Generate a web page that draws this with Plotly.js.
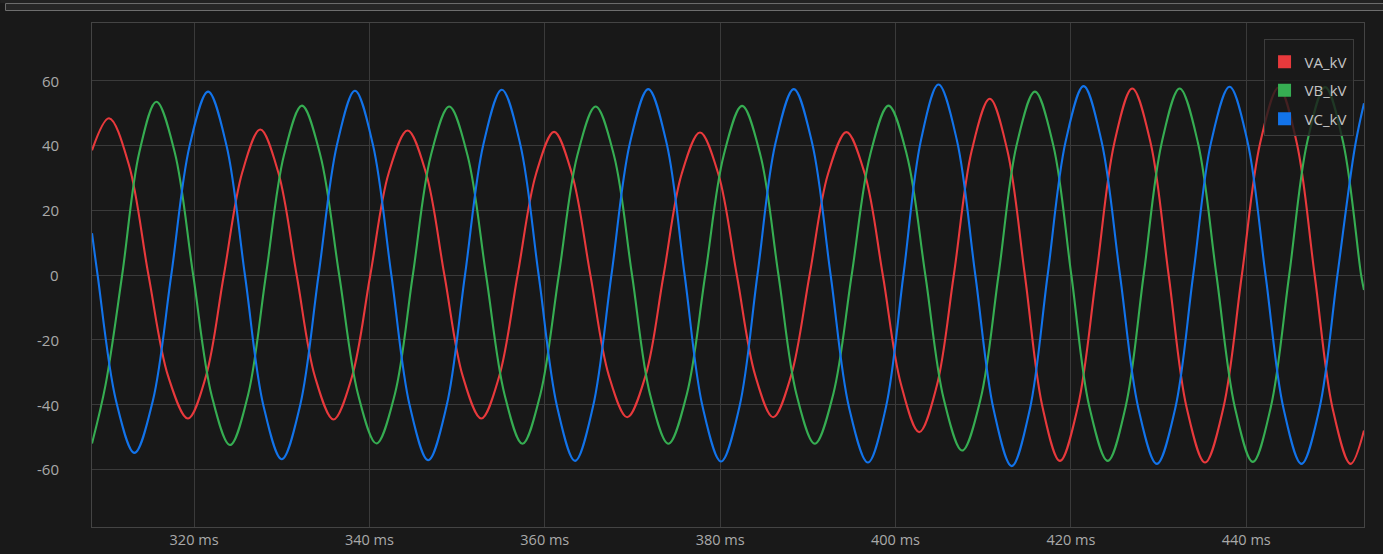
<!DOCTYPE html>
<html>
<head>
<meta charset="utf-8">
<script src="https://cdn.plot.ly/plotly-3.0.1.min.js"></script>
<style>
html,body{margin:0;padding:0;background:#191919;overflow:hidden;}
#chart{width:1383px;height:554px;}
</style>
</head>
<body>
<div id="chart"></div>
<script>
// ---- data (time in ms, voltage in kV) ----
const vaTime = [308.36,310.3,312.55,314.8,317.05,319.3,321.35,323.4,325.5,327.55,329.6,331.7,333.8,335.9,338.0,340.1,342.2,344.35,346.45,348.55,350.65,352.75,354.8,356.9,359.0,361.06,363.1,365.2,367.3,369.4,371.5,373.55,375.6,377.7,379.8,381.9,384.0,386.05,388.1,390.2,392.3,394.4,396.5,398.55,400.6,402.7,404.7,406.65,408.7,410.75,412.75,414.75,416.75,418.75,420.8,422.9,424.95,427.0,429.1,431.15,433.2,435.3,437.4,439.5,441.6,443.7,445.75,447.8,449.85,451.9,453.43];
const vaValue = [38.5,48.4,34.2,0,-31.3,-44.3,-31.3,0,31.7,44.9,31.7,0,-31.5,-44.6,-31.5,0,31.5,44.6,31.5,0,-31.3,-44.3,-31.3,0,31.2,44.2,31.2,0,-31.0,-43.9,-31.0,0,31.1,44.0,31.1,0,-31.0,-43.9,-31.0,0,31.2,44.1,31.2,0,-33.5,-48.5,-34.3,0,38.5,54.4,38.5,0,-40.6,-57.4,-40.6,0,40.7,57.6,40.7,0,-40.9,-57.9,-40.9,0,40.9,57.9,40.9,0,-41.2,-58.3,-48];

const vbTime = [308.36,309.9,311.8,313.75,315.7,317.8,319.9,322.0,324.1,326.15,328.2,330.25,332.3,334.4,336.55,338.7,340.8,342.9,344.95,347.0,349.1,351.2,353.3,355.4,357.45,359.5,361.6,363.7,365.8,367.9,369.95,372.0,374.1,376.2,378.3,380.4,382.5,384.6,386.65,388.7,390.8,392.9,395.0,397.1,399.2,401.3,403.4,405.5,407.6,409.7,411.75,413.8,415.9,418.0,420.05,422.1,424.2,426.25,428.3,430.35,432.4,434.5,436.6,438.7,440.75,442.8,444.9,446.95,449.0,451.05,453.1,453.43];
const vbValue = [-52.0,-34,0,37.8,53.5,37.8,0,-37.1,-52.5,-37.1,0,37.0,52.3,37.0,0,-36.8,-52.0,-36.8,0,36.8,52.0,36.8,0,-36.8,-52.1,-36.8,0,36.8,52.0,36.8,0,-36.8,-52.1,-36.8,0,36.9,52.2,36.9,0,-36.8,-52.1,-36.8,0,37.0,52.3,37.0,0,-38.3,-54.2,-38.3,0,40.0,56.6,40.0,0,-40.6,-57.4,-40.6,0,40.7,57.6,40.7,0,-40.8,-57.7,-40.8,0,41.0,58.0,41.0,0,-4.6];

const vcTime = [308.36,309.0,311.1,313.2,315.3,317.4,319.5,321.6,323.7,325.8,327.9,330.0,332.1,334.2,336.3,338.35,340.4,342.5,344.6,346.7,348.8,350.9,353.0,355.1,357.2,359.3,361.4,363.45,365.5,367.6,369.7,371.8,373.9,375.95,378.0,380.1,382.2,384.25,386.3,388.4,390.5,392.6,394.7,396.85,398.9,400.9,402.9,404.9,407.0,409.1,411.2,413.25,415.3,417.35,419.4,421.45,423.5,425.6,427.7,429.8,431.9,433.95,436.0,438.1,440.15,442.2,444.25,446.3,448.35,450.4,452.4,453.43];
const vcValue = [12.9,0,-38.8,-54.9,-38.8,0,40.0,56.6,40.0,0,-40.2,-56.9,-40.2,0,40.2,56.9,40.2,0,-40.4,-57.2,-40.4,0,40.4,57.2,40.4,0,-40.6,-57.4,-40.6,0,40.6,57.4,40.6,0,-40.7,-57.6,-40.7,0,40.6,57.4,40.6,0,-40.9,-57.9,-40.9,0,41.6,58.8,41.6,0,-41.7,-59.0,-41.7,0,41.2,58.3,41.2,0,-41.2,-58.3,-41.2,0,41.1,58.1,41.1,0,-41.2,-58.3,-41.2,0,39.6,53];

const seriesNames = ['VA_kV','VB_kV','VC_kV'];
const seriesColors = ['#e8393c','#36ad52','#1273ea'];
const yTickVals = [-60,-40,-20,0,20,40,60];
const yTickText = ['-60','-40','-20','0','20','40','60'];
const xTickVals = [320,340,360,380,400,420,440];
const xUnit = ' ms';

// ---- layout geometry ----
const W = 1383, H = 554;
const M = {l:92, r:18.5, t:23, b:26.5};
const plotW = W - M.l - M.r, plotH = H - M.t - M.b;
const px = x => (x - M.l) / plotW;
const py = y => (H - M.b - y) / plotH;

const times = [vaTime, vbTime, vcTime];
const values = [vaValue, vbValue, vcValue];

const traces = [];
for (let i = 0; i < 3; i++) {
  traces.push({
    type:'scatter', mode:'lines', name:seriesNames[i],
    x:times[i], y:values[i],
    line:{color:seriesColors[i], width:2.1, shape:'spline', smoothing:1},
    showlegend:false, hoverinfo:'x+y+name'
  });
}
for (let i = 0; i < 3; i++) {
  traces.push({
    type:'scatter', mode:'markers', name:seriesNames[i],
    x:[null], y:[null], legendgroup:'g'+i,
    marker:{symbol:'square', size:13, color:seriesColors[i]},
    showlegend:true, hoverinfo:'skip'
  });
}

// y tick labels as annotations (placed further left, as in the reference)
const yLabelAnn = yTickVals.map((v, i) => ({
  xref:'paper', yref:'y', x:px(61), y:v, xanchor:'right', yanchor:'middle',
  text:yTickText[i], showarrow:false, font:{size:15, color:'#a9a9a9'}
}));

const gridC = '#3a3a3a';
const layout = {
  width:W, height:H,
  margin:M,
  paper_bgcolor:'#191919',
  plot_bgcolor:'#181818',
  font:{family:'"Open Sans", "Noto Sans", sans-serif', size:15, color:'#a9a9a9'},
  showlegend:true,
  xaxis:{
    range:[308.36,453.43], tickmode:'array', tickvals:xTickVals,
    ticktext:xTickVals.map(v => v + xUnit),
    showgrid:true, gridcolor:gridC, gridwidth:1, zeroline:false,
    showline:true, mirror:true, linecolor:'#444444', linewidth:1,
    ticks:'', ticklabelstandoff:6.5,
    tickfont:{size:14.5, color:'#a9a9a9'}
  },
  yaxis:{
    range:[-77.8,77.8], tickmode:'array', tickvals:yTickVals,
    showgrid:true, gridcolor:gridC, gridwidth:1, zeroline:false,
    showline:true, mirror:true, linecolor:'#444444', linewidth:1,
    ticks:'', showticklabels:false
  },
  legend:{
    x:px(1264), y:py(39.4), xanchor:'left', yanchor:'top',
    bgcolor:'rgba(26,26,26,0.8)', bordercolor:'#3d3d3d', borderwidth:1,
    font:{size:15, color:'#c4c4c4'}, traceorder:'grouped', tracegroupgap:6,
    title:{text:'\u00a0', font:{size:4}}
  },
  annotations:yLabelAnn,
  shapes:[
    {type:'rect', xref:'paper', yref:'paper', x0:px(0), x1:px(W), y0:py(0), y1:py(3),
     fillcolor:'#222222', line:{width:0}, layer:'above'},
    {type:'rect', xref:'paper', yref:'paper', x0:px(5.5), x1:px(W+2), y0:py(3.5), y1:py(10.5),
     fillcolor:'#262626', line:{color:'#6e6e6e', width:1}, layer:'above'}
  ]
};

Plotly.newPlot('chart', traces, layout, {displayModeBar:false});
</script>
</body>
</html>
